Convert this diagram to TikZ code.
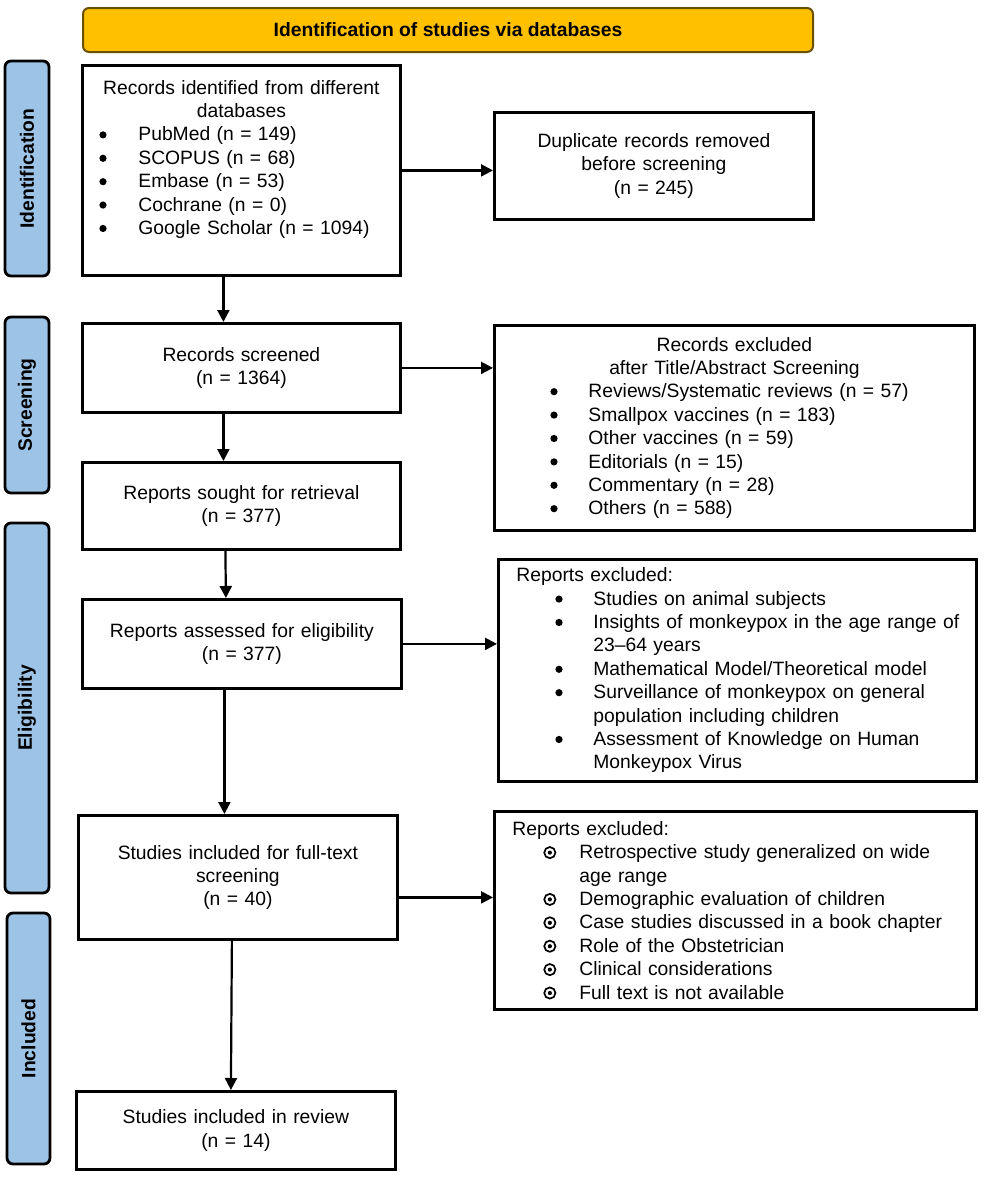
\documentclass[tikz,border=0pt]{standalone}
\usepackage{fontspec}
\setmainfont{Liberation Sans}
\usetikzlibrary{arrows.meta}

\definecolor{headorange}{HTML}{FFC000}
\definecolor{headedge}{HTML}{6B5000}
\definecolor{phaseblue}{HTML}{9DC3E6}

\newcommand{\ctrline}[1]{\makebox[\hsize]{#1}}
\newcommand{\dotmark}{\tikz[baseline=-0.6ex]{\fill (0,0) circle (3.6pt);}}
\newcommand{\odotmark}{\tikz[baseline=-0.6ex]{\draw[line width=1.7pt] (0,0) circle (5.6pt); \fill (0,0) circle (2.1pt);}}
\newcommand{\dotitem}[3]{\hspace*{#1}\makebox[\dimexpr#2-#1\relax][l]{\dotmark}#3}
\newcommand{\oitem}[3]{\hspace*{#1}\makebox[\dimexpr#2-#1\relax][l]{\odotmark}#3}

\begin{document}
\begin{tikzpicture}[x=1pt,y=-1pt]
    \tikzstyle{every node}=[font={\fontsize{19.3}{23.4}\selectfont}]
    \tikzstyle{box}=[draw, line width=2.8pt, inner sep=0pt, anchor=north west]
    \tikzstyle{head}=[draw=headedge, fill=headorange, line width=2pt, rounded corners=6pt, anchor=north west, font={\fontsize{19.3}{23.4}\selectfont\bfseries}]
    \tikzstyle{phase}=[draw, fill=phaseblue, line width=2.8pt, rounded corners=6pt, rotate=90, minimum height=44pt, font={\fontsize{19.3}{23.4}\selectfont\bfseries}]
    \tikzstyle{arr}=[line width=2.2pt, -{Triangle[length=12pt,width=12pt]}]
    \useasboundingbox (0,0) rectangle (986,1181);

    \node[head, minimum width=730pt, minimum height=44pt] (title) at (82,7) {Identification of studies via databases};

    % phases on the left
    \node[phase, minimum width=215pt] (pident) at (27,168.5) {Identification};
    \node[phase, minimum width=176pt] (pscreen) at (27,405) {Screening};
    \node[phase, minimum width=370pt] (pelig) at (27,708) {Eligibility};
    \node[phase, minimum width=251pt, minimum height=43pt] (pincl) at (28.5,1038.5) {Included};

    % main column
    \node[box, minimum height=210pt, text width=318pt, align=left] (ident) at (81,64) {%
        \ctrline{Records identified from different}\\
        \ctrline{databases}\\
        \dotitem{17pt}{56pt}{PubMed (n = 149)}\\
        \dotitem{17pt}{56pt}{SCOPUS (n = 68)}\\
        \dotitem{17pt}{56pt}{Embase (n = 53)}\\
        \dotitem{17pt}{56pt}{Cochrane (n = 0)}\\
        \dotitem{17pt}{56pt}{Google Scholar (n = 1094)}\rule[-26pt]{0pt}{26pt}};
    \node[box, minimum height=89pt, text width=318pt, align=center] (screened) at (81,322) {Records screened\\(n = 1364)};
    \node[box, minimum height=87pt, text width=318pt, align=center] (sought) at (81,461) {Reports sought for retrieval\\(n = 377)};
    \node[box, minimum height=89pt, text width=319pt, align=center] (assessed) at (81,598) {Reports assessed for eligibility\\(n = 377)};
    \node[box, minimum height=124pt, text width=319pt, align=center] (fulltext) at (77,814) {Studies included for full-text\\screening\\(n = 40)};
    \node[box, minimum height=78pt, text width=319pt, align=center] (review) at (75,1090) {Studies included in review\\(n = 14)};

    % exclusions on the right
    \node[box, minimum height=107pt, text width=319pt, align=center] (dup) at (493,111) {Duplicate records removed\\before screening\\(n = 245)};
    \node[box, minimum height=205pt, text width=480pt, align=left] (recexcl) at (493,324) {%
        \ctrline{Records excluded}\\
        \ctrline{after Title/Abstract Screening}\\
        \dotitem{56pt}{94pt}{Reviews/Systematic reviews (n = 57)}\\
        \dotitem{56pt}{94pt}{Smallpox vaccines (n = 183)}\\
        \dotitem{56pt}{94pt}{Other vaccines (n = 59)}\\
        \dotitem{56pt}{94pt}{Editorials (n = 15)}\\
        \dotitem{56pt}{94pt}{Commentary (n = 28)}\\
        \dotitem{56pt}{94pt}{Others (n = 588)}};
    \node[box, minimum height=222pt, text width=478pt, align=left] (rexclA) at (497,558) {%
        \hspace*{18pt}Reports excluded:\\
        \dotitem{57pt}{95pt}{Studies on animal subjects}\\
        \dotitem{57pt}{95pt}{Insights of monkeypox in the age range of}\\
        \hspace*{95pt}23--64 years\\
        \dotitem{57pt}{95pt}{Mathematical Model/Theoretical model}\\
        \dotitem{57pt}{95pt}{Surveillance of monkeypox on general}\\
        \hspace*{95pt}population including children\\
        \dotitem{57pt}{95pt}{Assessment of Knowledge on Human}\\
        \hspace*{95pt}Monkeypox Virus};
    \node[box, minimum height=198pt, text width=482pt, align=left] (rexclB) at (493,810) {%
        \hspace*{18pt}Reports excluded:\\
        \oitem{49pt}{85pt}{Retrospective study generalized on wide}\\
        \hspace*{85pt}age range\\
        \oitem{49pt}{85pt}{Demographic evaluation of children}\\
        \oitem{49pt}{85pt}{Case studies discussed in a book chapter}\\
        \oitem{49pt}{85pt}{Role of the Obstetrician}\\
        \oitem{49pt}{85pt}{Clinical considerations}\\
        \oitem{49pt}{85pt}{Full text is not available}};

    % arrows
    \draw[arr] ([xshift=-18pt]ident.south) -- ([xshift=-18pt]screened.north);
    \draw[arr] ([xshift=-18pt]screened.south) -- ([xshift=-18pt]sought.north);
    \draw[arr] ([xshift=-16pt]sought.south) -- ([xshift=-16pt]assessed.north);
    \draw[arr] ([xshift=-17.5pt]assessed.south) -- ([xshift=-13.5pt]fulltext.north);
    \draw[arr] ([xshift=-6pt]fulltext.south) -- ([xshift=-5pt]review.north);
    \draw[arr] (ident.east) -- (ident.east -| dup.west);
    \draw[arr] (screened.east) -- (screened.east -| recexcl.west);
    \draw[arr] (assessed.east) -- (assessed.east -| rexclA.west);
    \coordinate (ftout) at ([yshift=-20pt]fulltext.east);
    \draw[arr] (ftout) -- (ftout -| rexclB.west);
\end{tikzpicture}
\end{document}
